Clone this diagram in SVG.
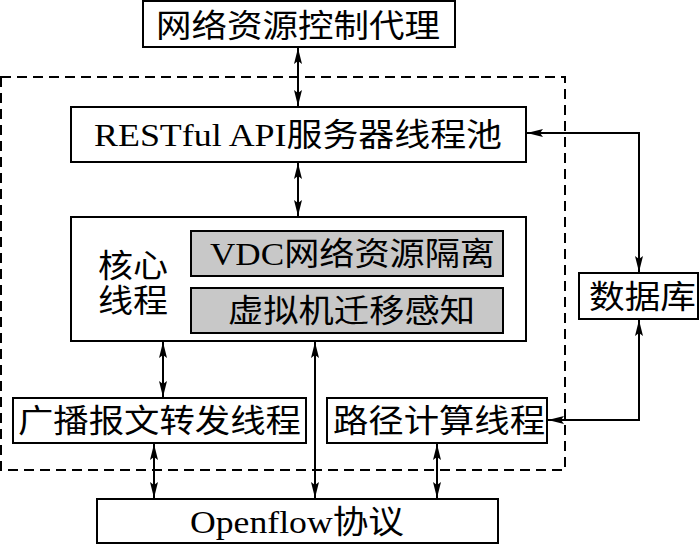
<svg xmlns="http://www.w3.org/2000/svg" width="700" height="544" viewBox="0 0 700 544">
<defs>
<style>
.box{fill:#fff;stroke:#000;stroke-width:2}
.gray{fill:#c8c8c8;stroke:#000;stroke-width:2}
.t{font-family:"Liberation Serif","Noto Sans CJK SC",serif;font-size:32px;fill:#000}
.ln{fill:none;stroke:#000;stroke-width:2;marker-start:url(#ah);marker-end:url(#ah)}
</style>
<marker id="ah" viewBox="0 0 16 8" refX="16" refY="4" markerWidth="16" markerHeight="8" markerUnits="userSpaceOnUse" orient="auto-start-reverse">
<path d="M0,0 L16,4 L0,8 L3,4 z" fill="#000"/>
</marker>
</defs>
<rect x="1" y="77" width="564" height="393" fill="none" stroke="#000" stroke-width="2" stroke-dasharray="10,6"/>
<g id="agent"><rect class="box" x="143" y="1" width="312" height="46"/><text class="t" x="156" y="37" textLength="284" lengthAdjust="spacingAndGlyphs">网络资源控制代理</text></g>
<g id="restful"><rect class="box" x="71" y="107" width="455" height="55"/><text class="t" x="94" y="146" textLength="408" lengthAdjust="spacingAndGlyphs">RESTful API服务器线程池</text></g>
<g id="core"><rect class="box" x="71" y="217" width="455" height="124"/><text class="t" x="98" y="277" textLength="70" lengthAdjust="spacingAndGlyphs">核心</text><text class="t" x="98" y="312" textLength="70" lengthAdjust="spacingAndGlyphs">线程</text></g>
<g id="vdc"><rect class="gray" x="191" y="231" width="312" height="45"/><text class="t" x="210" y="265" textLength="285" lengthAdjust="spacingAndGlyphs">VDC网络资源隔离</text></g>
<g id="vm"><rect class="gray" x="191" y="288" width="312" height="45"/><text class="t" x="228" y="322" textLength="247" lengthAdjust="spacingAndGlyphs">虚拟机迁移感知</text></g>
<g id="db"><rect class="box" x="579" y="273" width="119" height="46"/><text class="t" x="589" y="308" textLength="107" lengthAdjust="spacingAndGlyphs">数据库</text></g>
<g id="broadcast"><rect class="box" x="13" y="398" width="293" height="45"/><text class="t" x="18" y="432" textLength="283" lengthAdjust="spacingAndGlyphs">广播报文转发线程</text></g>
<g id="path"><rect class="box" x="327" y="398" width="220" height="45"/><text class="t" x="333" y="432" textLength="212" lengthAdjust="spacingAndGlyphs">路径计算线程</text></g>
<g id="openflow"><rect class="box" x="97" y="499" width="401" height="44"/><text class="t" x="190" y="533" textLength="214" lengthAdjust="spacingAndGlyphs">Openflow协议</text></g>
<g id="connectors">
<line class="ln" x1="298" y1="48" x2="298" y2="106"/>
<line class="ln" x1="298" y1="163" x2="298" y2="216"/>
<line class="ln" x1="163" y1="342" x2="163" y2="397"/>
<line class="ln" x1="315" y1="342" x2="315" y2="498"/>
<line class="ln" x1="154" y1="444" x2="154" y2="498"/>
<line class="ln" x1="437" y1="444" x2="437" y2="498"/>
<polyline class="ln" points="527,133 639,133 639,272"/>
<polyline class="ln" points="639,320 639,420 548,420"/>
</g>
</svg>
